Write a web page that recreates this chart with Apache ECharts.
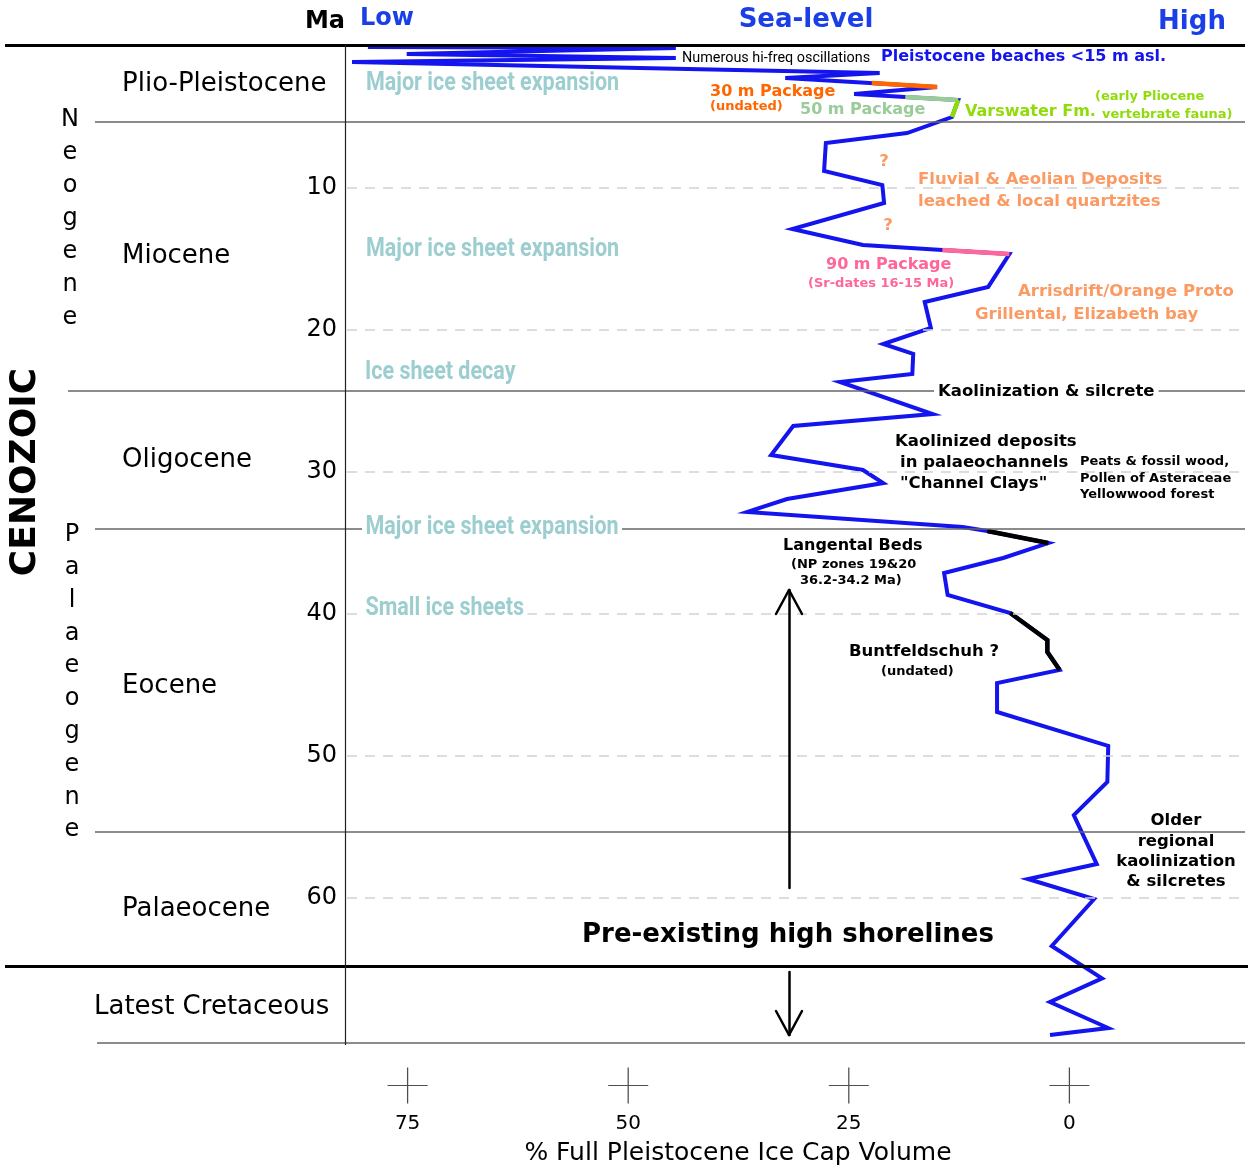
<!DOCTYPE html>
<html><head><meta charset="utf-8">
<script src="https://cdn.jsdelivr.net/npm/echarts@6/dist/echarts.min.js"></script>
<style>html,body{margin:0;padding:0;background:#fff}#c{width:1249px;height:1169px}</style>
</head><body><div id="c"></div>
<script>
// ---- data (age in Ma, % of full Pleistocene ice-cap volume) ----
const ageMa = [0.03,0.10,0.17,0.59,0.87,1.16,1.93,2.28,2.92,3.41,3.62,3.83,5.03,6.16,6.86,8.83,9.82,11.09,12.92,14.05,14.40,14.68,17.0,18.06,19.89,21.02,21.72,23.13,23.69,25.95,26.79,28.84,29.89,30.81,31.94,32.85,33.91,34.19,35.04,36.09,37.15,38.70,39.97,41.87,42.71,43.98,44.9,46.94,49.33,51.87,54.2,57.65,58.7,60.11,63.42,65.7,67.37,69.2,69.69];
const iceVolume = [44.6,79.5,44.6,75.1,44.6,81.3,21.5,32.2,15.0,24.4,18.6,12.6,13.3,18.4,27.6,27.8,21.2,21.0,31.4,23.4,14.4,6.8,9.2,16.4,15.7,21.1,17.7,17.8,26.0,15.5,31.3,33.8,23.4,21.1,32.0,36.5,12.1,9.3,2.4,7.5,14.2,13.8,6.7,2.5,2.5,1.1,8.2,8.2,-4.4,-4.3,-0.5,-3.1,4.7,-2.8,2.0,-3.7,2.2,-4.4,2.2];
const pkg30Age = [2.64, 2.92],  pkg30Vol = [22.4, 15.0];
const pkg50Age = [3.62, 3.83],  pkg50Vol = [18.6, 12.6];
const varswaterAge = [3.83, 5.03], varswaterVol = [12.6, 13.3];
const pkg90Age = [14.40, 14.68], pkg90Vol = [14.4, 6.8];
const langentalAge = [34.19, 35.04], langentalVol = [9.3, 2.4];
const buntAge = [39.97, 41.87, 42.71, 43.98], buntVol = [6.7, 2.5, 2.5, 1.1];
const yTickLabels = [10, 20, 30, 40, 50, 60];
const xTickLabels = [75, 50, 25, 0];
const epochBoundaryMa = [5.38, 24.3, 34.05, 55.4];
const cretBoundaryMa = 64.83;
const baseMa = 70.26;

// ---- layout helpers (pixel -> axis value) ----
const X0 = 1069.4, XS = 8.824, Y0 = 45.6, YS = 14.197;
const vx = px => (X0 - px) / XS;
const ay = py => (py - Y0) / YS;
const zip = (a, v) => a.map((m, i) => [v[i], m]);

const BLUE = '#1414ee', HBLUE = '#1a3fe8', SALMON = '#fb9a63', PINK = '#ff6699',
      ORANGE = '#ff6600', LGREEN = '#99cc99', YGREEN = '#8fdc0a', TEAL = '#9cced0';
const SANS = "'DejaVu Sans', sans-serif";
const NARROW = "'Liberation Sans Narrow', 'Roboto', sans-serif";

function hline(age, x1, x2, color, width, type) {
  return [{coord: [vx(x1), age], lineStyle: {color, width, type: type || 'solid'}}, {coord: [vx(x2), age]}];
}
function seg(px1, py1, px2, py2) {
  return [{coord: [vx(px1), ay(py1)]}, {coord: [vx(px2), ay(py2)]}];
}

const frameLines = [
  hline(0, 5, 1245, '#000', 3),
  hline(epochBoundaryMa[0], 95, 1245, '#666', 1.5),
  hline(epochBoundaryMa[1], 68, 1245, '#666', 1.5),
  hline(epochBoundaryMa[2], 95, 1245, '#666', 1.5),
  hline(epochBoundaryMa[3], 95, 1245, '#666', 1.5),
  hline(cretBoundaryMa, 5, 1248, '#000', 3),
  hline(baseMa, 97, 1245, '#666', 1.5),
  [{coord: [vx(345), 0], lineStyle: {color: '#222', width: 1.2, type: 'solid'}}, {coord: [vx(345), ay(1045)]}]
].concat(yTickLabels.map(t => hline(t, 347, 1247, '#d2d2d2', 1.5, [10, 8])));

const arrowLines = [
  seg(789, 888, 789, 590), seg(776, 614, 789, 590), seg(802, 614, 789, 590),
  seg(789, 972, 789, 1035), seg(776, 1011, 789, 1035), seg(802, 1011, 789, 1035)
];

function T(text, x, y, fill, size, weight, align, extra) {
  return {
    type: 'text', x, y, z: 100, silent: true,
    style: Object.assign({
      text, fill, fontSize: size, fontWeight: weight || 'normal', fontFamily: SANS,
      align: align || 'left', verticalAlign: 'middle'
    }, extra || {})
  };
}
function TN(text, x, y, withBg) {
  const e = T(text, x, y, TEAL, 25, 'bold', 'left', Object.assign({fontFamily: NARROW}, withBg ? {backgroundColor: '#fff', padding: [0, 4]} : {}));
  e.scaleX = 0.86;
  return e;
}
const bg = {backgroundColor: '#fff', padding: [0, 4]};
const M = 16.5, S = 13;

const texts = [
  T('Ma', 325, 22, '#000', 24, 'bold', 'center'),
  T('Low', 387, 19, HBLUE, 24, 'bold', 'center'),
  T('Sea-level', 806, 20, HBLUE, 26, 'bold', 'center'),
  T('High', 1192, 22, HBLUE, 26, 'bold', 'center'),

  T('Plio-Pleistocene', 122, 84, '#000', 26),
  T('Miocene', 122, 256, '#000', 26),
  T('Oligocene', 122, 460, '#000', 26),
  T('Eocene', 122, 686, '#000', 26),
  T('Palaeocene', 122, 909, '#000', 26),
  T('Latest Cretaceous', 94, 1007, '#000', 26),

  TN('Major ice sheet expansion', 366, 84),
  TN('Major ice sheet expansion', 366, 250),
  TN('Ice sheet decay', 365, 373),
  TN('Major ice sheet expansion', 362, 528, true),
  TN('Small ice sheets', 362, 609, true),

  T('Numerous hi-freq oscillations', 682, 58, '#000', 14.4, 'normal', 'left', {fontFamily: NARROW}),
  T('Pleistocene beaches <15 m asl.', 881, 57, BLUE, 16, 'bold'),
  T('30 m Package', 710, 92, ORANGE, 16, 'bold'),
  T('(undated)', 710, 107, ORANGE, S, 'bold'),
  T('50 m Package', 800, 110, LGREEN, 16, 'bold'),
  T('Varswater Fm.', 965, 112, YGREEN, 16, 'bold'),
  T('(early Pliocene', 1095, 97, YGREEN, S, 'bold'),
  T('vertebrate fauna)', 1102, 115, YGREEN, S, 'bold'),
  T('?', 884, 162, SALMON, M, 'bold', 'center'),
  T('?', 888, 226, SALMON, M, 'bold', 'center'),
  T('Fluvial & Aeolian Deposits', 918, 180, SALMON, M, 'bold'),
  T('leached & local quartzites', 918, 202, SALMON, M, 'bold'),
  T('90 m Package', 826, 265, PINK, 16, 'bold'),
  T('(Sr-dates 16-15 Ma)', 808, 284, PINK, S, 'bold'),
  T('Arrisdrift/Orange Proto', 1018, 292, SALMON, M, 'bold'),
  T('Grillental, Elizabeth bay', 975, 315, SALMON, M, 'bold'),
  T('Kaolinization & silcrete', 934, 392, '#000', M, 'bold', 'left', bg),
  T('Kaolinized deposits', 895, 442, '#000', M, 'bold'),
  T('in palaeochannels', 900, 463, '#000', M, 'bold'),
  T('"Channel Clays"', 900, 484, '#000', M, 'bold'),
  T('Peats & fossil wood,', 1080, 462, '#000', S, 'bold'),
  T('Pollen of Asteraceae', 1080, 479, '#000', S, 'bold'),
  T('Yellowwood forest', 1080, 495, '#000', S, 'bold'),
  T('Langental Beds', 783, 546, '#000', 16, 'bold'),
  T('(NP zones 19&20', 791, 565, '#000', S, 'bold'),
  T('36.2-34.2 Ma)', 800, 581, '#000', S, 'bold'),
  T('Buntfeldschuh ?', 849, 652, '#000', M, 'bold'),
  T('(undated)', 881, 672, '#000', S, 'bold'),
  T('Older', 1176, 821, '#000', M, 'bold', 'center'),
  T('regional', 1176, 842, '#000', M, 'bold', 'center'),
  T('kaolinization', 1176, 862, '#000', M, 'bold', 'center'),
  T('& silcretes', 1176, 882, '#000', M, 'bold', 'center'),
  T('Pre-existing high shorelines', 788, 935, '#000', 26, 'bold', 'center'),
  T('% Full Pleistocene Ice Cap Volume', 738, 1153, '#000', 25, 'normal', 'center'),

  T('N\ne\no\ng\ne\nn\ne', 70, 103.5, '#000', 24, 'normal', 'center', {verticalAlign: 'top', lineHeight: 33}),
  T('P\na\nl\na\ne\no\ng\ne\nn\ne', 72, 518.6, '#000', 24, 'normal', 'center', {verticalAlign: 'top', lineHeight: 32.8}),
  Object.assign(T('CENOZOIC', 26, 472, '#000', 36, 'bold', 'center'), {rotation: Math.PI / 2})
];

const chart = echarts.init(document.getElementById('c'), null, {renderer: 'canvas'});
const overlay = (name, a, v, color, w) => ({
  name, type: 'line', data: zip(a, v), symbol: 'none', z: 4,
  lineStyle: {color, width: w || 4.5, cap: 'butt', join: 'miter'}, animation: false, silent: true
});
chart.setOption({
  animation: false,
  backgroundColor: '#fff',
  grid: {left: 5, right: 1, top: Y0, bottom: 1169 - (Y0 + 75 * YS)},
  xAxis: {
    type: 'value', inverse: true, min: vx(1248), max: vx(5),
    axisLine: {show: false}, axisTick: {show: false}, splitLine: {show: false},
    axisLabel: {customValues: xTickLabels, fontSize: 20, color: '#000', margin: 3, fontFamily: SANS}
  },
  yAxis: {
    type: 'value', inverse: true, min: 0, max: 75, position: 'left', offset: -335,
    axisLine: {show: false}, axisTick: {show: false}, splitLine: {show: false},
    axisLabel: {customValues: yTickLabels, fontSize: 24, color: '#000', margin: 3, fontFamily: SANS}
  },
  series: [
    {name: 'frame', type: 'line', data: [], z: 1, silent: true,
     markLine: {silent: true, symbol: 'none', label: {show: false}, animation: false, data: frameLines}},
    {name: 'arrows', type: 'line', data: [], z: 3, silent: true,
     markLine: {silent: true, symbol: 'none', label: {show: false}, animation: false,
       lineStyle: {color: '#000', width: 2.5, type: 'solid', cap: 'round'}, data: arrowLines}},
    {name: 'Ice volume', type: 'line', data: zip(ageMa, iceVolume), symbol: 'none', z: 3,
     lineStyle: {color: BLUE, width: 4, join: 'miter'}, silent: true},
    overlay('30 m Package', pkg30Age, pkg30Vol, ORANGE, 4.5),
    overlay('50 m Package', pkg50Age, pkg50Vol, LGREEN, 4.5),
    overlay('Varswater Fm.', varswaterAge, varswaterVol, YGREEN, 4.5),
    overlay('90 m Package', pkg90Age, pkg90Vol, PINK, 4.5),
    overlay('Langental Beds', langentalAge, langentalVol, '#000', 4.5),
    overlay('Buntfeldschuh', buntAge, buntVol, '#000', 4.5),
    {name: 'ticks', type: 'scatter', z: 3, silent: true,
     data: xTickLabels.map(v => [v, ay(1085.5)]),
     symbol: 'path://M0,18L40,18M20,0L20,36', symbolSize: [40, 36],
     itemStyle: {color: 'rgba(0,0,0,0)', borderColor: '#222', borderWidth: 1.2}}
  ],
  graphic: texts
});
</script></body></html>
